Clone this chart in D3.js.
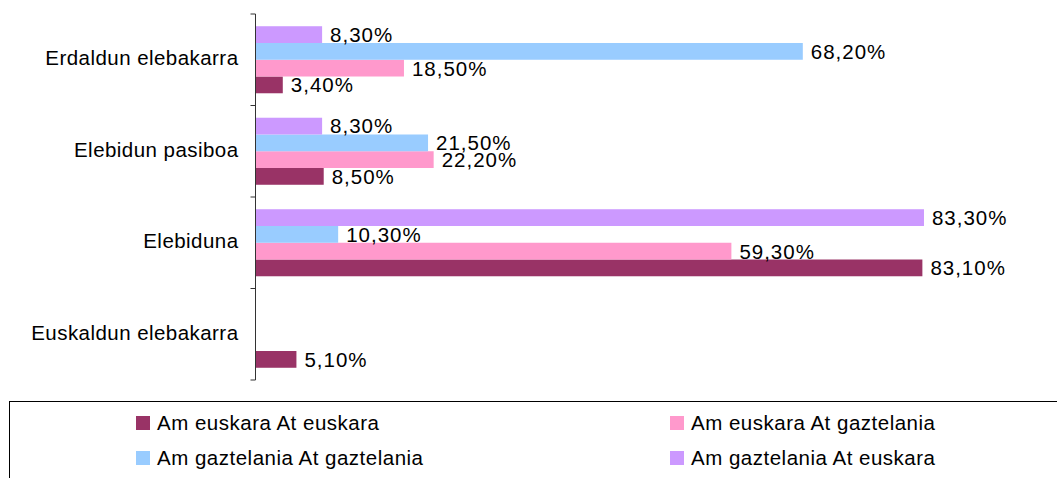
<!DOCTYPE html>
<html>
<head>
<meta charset="utf-8">
<script src="https://cdn.jsdelivr.net/npm/d3@7"></script>
<style>
  html, body { margin: 0; padding: 0; background: #fff; }
  svg { display: block; font-family: "Liberation Sans", Arial, sans-serif; }
</style>
</head>
<body>
<svg id="chart" width="1057" height="478"></svg>
<script>
// ---- data ----
const categories = ["Erdaldun elebakarra", "Elebidun pasiboa", "Elebiduna", "Euskaldun elebakarra"];
const seriesNames = ["Am euskara At euskara", "Am euskara At gaztelania", "Am gaztelania At gaztelania", "Am gaztelania At euskara"];
const euskaraEuskara = [0.034, 0.085, 0.831, 0.051];
const euskaraGaztelania = [0.185, 0.222, 0.593, null];
const gaztelaniaGaztelania = [0.682, 0.215, 0.103, null];
const gaztelaniaEuskara = [0.083, 0.083, 0.833, null];
const seriesColors = ["#993366", "#FF99CC", "#99CCFF", "#CC99FF"];
const seriesValues = [euskaraEuskara, euskaraGaztelania, gaztelaniaGaztelania, gaztelaniaEuskara];
// bar stacking order within a category, top to bottom
const barOrder = [3, 2, 1, 0];

const svg = d3.select("#chart");
const fontSize = 20.5;

const x = d3.scaleLinear().domain([0, 1]).range([255.5, 1058]);
const y0 = d3.scaleBand().domain(categories).range([14, 380]).padding(0);
const y1 = d3.scaleBand().domain(barOrder).range([0, y0.bandwidth()]).paddingInner(0).paddingOuter(0.73);

const fmt = v => d3.format(".2f")(v * 100).replace(".", ",") + "%";

const rows = [];
categories.forEach((c, ci) => {
  seriesValues.forEach((vals, si) => {
    if (vals[ci] != null) rows.push({ cat: c, s: si, v: vals[ci] });
  });
});

const g = svg.append("g");
g.selectAll("rect.bar").data(rows).enter().append("rect")
  .attr("class", "bar")
  .attr("x", x(0))
  .attr("y", d => y0(d.cat) + y1(d.s))
  .attr("width", d => x(d.v) - x(0))
  .attr("height", y1.bandwidth())
  .attr("fill", d => seriesColors[d.s]);

g.selectAll("text.lbl").data(rows).enter().append("text")
  .attr("class", "lbl")
  .attr("x", d => x(d.v) + 8)
  .attr("y", d => y0(d.cat) + y1(d.s) + y1.bandwidth() / 2)
  .attr("dy", "0.36em")
  .attr("font-size", fontSize)
  .attr("letter-spacing", 1)
  .attr("fill", "#000")
  .text(d => fmt(d.v));

// axis
const axisG = svg.append("g");
axisG.append("line")
  .attr("x1", x(0)).attr("x2", x(0))
  .attr("y1", y0.range()[0]).attr("y2", y0.range()[1])
  .attr("stroke", "#333").attr("stroke-width", 1);
const tickYs = categories.map(c => y0(c)).concat([y0.range()[1]]);
axisG.selectAll("line.tick").data(tickYs).enter().append("line")
  .attr("x1", x(0) - 5).attr("x2", x(0))
  .attr("y1", d => d).attr("y2", d => d)
  .attr("stroke", "#333");
axisG.selectAll("text.cat").data(categories).enter().append("text")
  .attr("x", x(0) - 17)
  .attr("y", d => y0(d) + y0.bandwidth() / 2)
  .attr("dy", "0.28em")
  .attr("text-anchor", "end")
  .attr("font-size", fontSize)
  .attr("letter-spacing", 0.45)
  .text(d => d);

// legend
const leg = svg.append("g");
leg.append("rect")
  .attr("x", 9.5).attr("y", 401.5)
  .attr("width", 1100).attr("height", 120)
  .attr("fill", "none").attr("stroke", "#000").attr("stroke-width", 1);
const legendOrder = [0, 1, 2, 3];
const legPos = [[136, 416], [670, 416], [136, 451], [670, 451]];
const legItems = leg.selectAll("g.item").data(legendOrder).enter().append("g")
  .attr("transform", (d, i) => `translate(${legPos[i][0]},${legPos[i][1]})`);
legItems.append("rect").attr("width", 14).attr("height", 14).attr("fill", d => seriesColors[d]);
legItems.append("text")
  .attr("x", 21).attr("y", 7).attr("dy", "0.36em")
  .attr("font-size", fontSize)
  .attr("letter-spacing", 0.5)
  .text(d => seriesNames[d]);
</script>
</body>
</html>
